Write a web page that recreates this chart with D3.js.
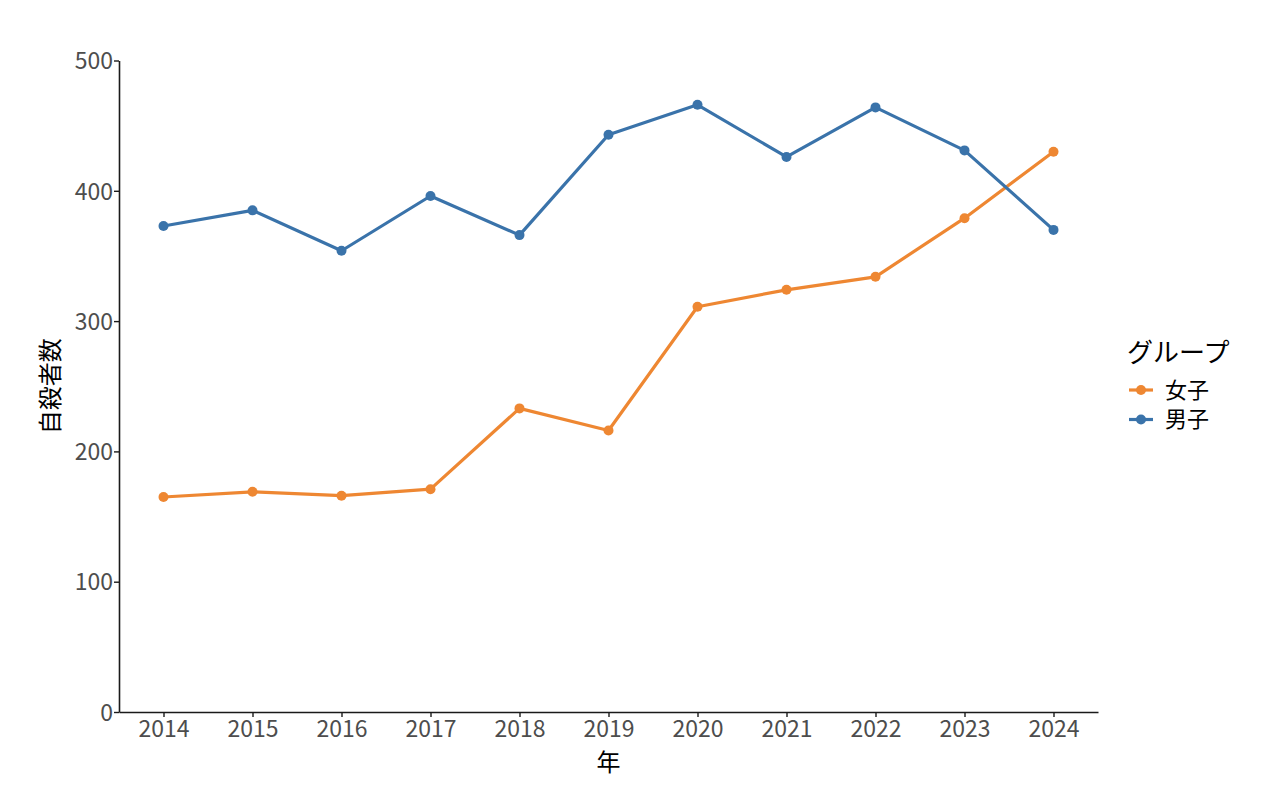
<!DOCTYPE html>
<html><head><meta charset="utf-8">
<script src="https://cdn.jsdelivr.net/npm/d3@7"></script>
<style>body{margin:0;background:#fff;} svg{display:block;font-family:"Noto Sans CJK JP","Noto Sans",sans-serif;}</style>
</head><body>
<svg id="chart" width="1280" height="796"></svg>
<script>
const years = [2014,2015,2016,2017,2018,2019,2020,2021,2022,2023,2024];
const female = [165,169,166,171,233,216,311,324,334,379,430];
const male = [373,385,354,396,366,443,466,426,464,431,370];
const yTicks = [0,100,200,300,400,500];
const seriesNames = ["女子","男子"];
const seriesColors = ["#ee8732","#3a73aa"];

const svg = d3.select("#chart");
const L = 119, R = 1098, T = 60.5, B = 712;
const x = d3.scaleLinear().domain([2013.5,2024.5]).range([L,R]);
const y = d3.scaleLinear().domain([0,500]).range([B,T]);

const gx = svg.append("g").attr("transform",`translate(0,${B})`)
  .call(d3.axisBottom(x).tickValues(years).tickFormat(d3.format("d")).tickSize(5).tickSizeOuter(0));
const gy = svg.append("g").attr("transform",`translate(${L},0)`)
  .call(d3.axisLeft(y).tickValues(yTicks).tickSize(5).tickSizeOuter(0));
[gx,gy].forEach(g=>{
  g.attr("font-family",null).attr("font-size",null);
  g.select(".domain").attr("stroke","#1a1a1a").attr("stroke-width",1.6);
  g.selectAll(".tick line").attr("stroke","#1a1a1a").attr("stroke-width",1.4);
  g.selectAll(".tick text").attr("fill","#4d4d4d").style("font-size","23px");
});
gx.selectAll(".tick text").attr("dy","0.9em").attr("y",4);
gy.selectAll(".tick text").attr("x",-6).attr("dy","0.36em");

svg.append("text").attr("x",(L+R)/2).attr("y",771).attr("text-anchor","middle")
  .style("font-size","24px").attr("fill","#000").text("年");
svg.append("text").attr("transform",`translate(59,${(T+B)/2}) rotate(-90)`).attr("text-anchor","middle")
  .style("font-size","24px").attr("fill","#000").text("自殺者数");

const line = d3.line().x((d,i)=>x(years[i])).y(d=>y(d));
const data = [female, male];
data.forEach((vals,k)=>{
  svg.append("path").datum(vals).attr("d",line).attr("fill","none")
    .attr("stroke",seriesColors[k]).attr("stroke-width",3.2).attr("stroke-linejoin","round");
  svg.selectAll(null).data(vals).enter().append("circle")
    .attr("cx",(d,i)=>x(years[i])).attr("cy",d=>y(d)).attr("r",5).attr("fill",seriesColors[k]);
});

// legend
const lg = svg.append("g");
lg.append("text").attr("x",1127).attr("y",362).style("font-size","26px").attr("fill","#000").text("グループ");
seriesNames.forEach((n,k)=>{
  const yy = 390 + k*29.5;
  lg.append("line").attr("x1",1129).attr("x2",1153).attr("y1",yy).attr("y2",yy)
    .attr("stroke",seriesColors[k]).attr("stroke-width",3.2);
  lg.append("circle").attr("cx",1141).attr("cy",yy).attr("r",5).attr("fill",seriesColors[k]);
  lg.append("text").attr("x",1165).attr("y",yy).attr("dy","0.36em").style("font-size","22px").attr("fill","#000").text(n);
});
</script>
</body></html>
